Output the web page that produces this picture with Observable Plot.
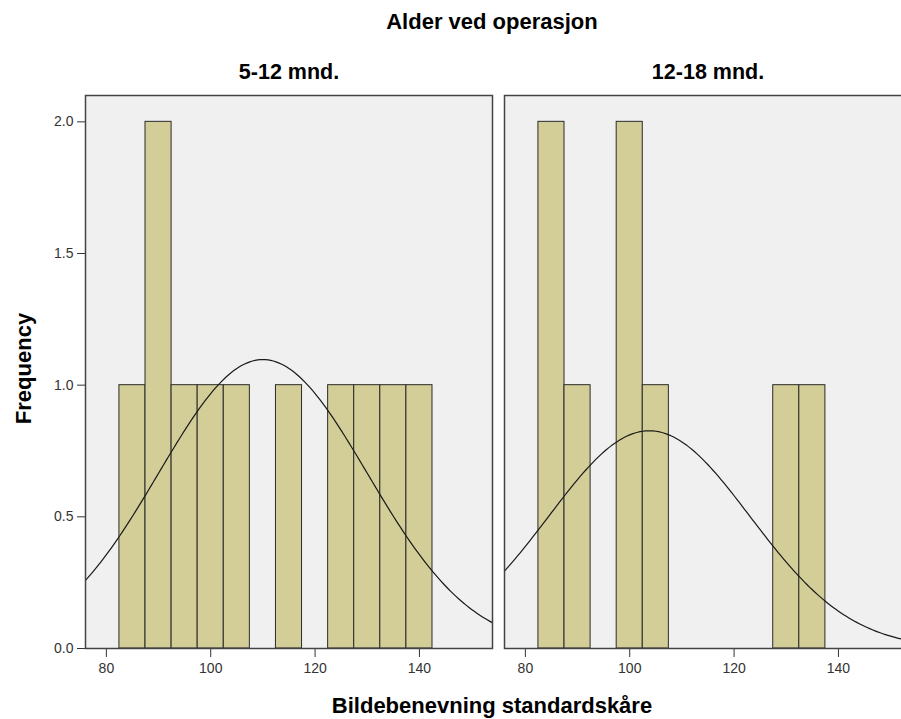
<!DOCTYPE html>
<html>
<head>
<meta charset="utf-8">
<script src="https://cdn.jsdelivr.net/npm/d3@7"></script>
<script src="https://cdn.jsdelivr.net/npm/@observablehq/plot@0.6"></script>
<style>
  html, body { margin: 0; padding: 0; background: #fff; overflow: hidden; }
  body { width: 901px; height: 719px; position: relative; }
  #chart { position: absolute; left: 0; top: 0; }
  #chart svg { max-width: none !important; }
</style>
</head>
<body>
<div id="chart"></div>
<script>
// Data
const groups = ["5-12 mnd.", "12-18 mnd."];
const binCenters = [85, 90, 95, 100, 105, 110, 115, 120, 125, 130, 135, 140];
const countsLeft  = [1, 2, 1, 1, 1, 0, 1, 0, 1, 1, 1, 1];
const countsRight = [2, 1, 0, 2, 1, 0, 0, 0, 0, 1, 1, 0];
const binWidth = 5;
// normal curve parameters (mean, sd, N) per group
const curveMean = [110, 103.75];
const curveSd = [20, 19.3];
const curveN = [11, 8];
const yTicks = [0, 0.5, 1.0, 1.5, 2.0];
const xTicks = [80, 100, 120, 140];

const FONT = "Arial, 'Liberation Sans', sans-serif";

const bars = [];
[countsLeft, countsRight].forEach((counts, gi) => {
  counts.forEach((c, i) => {
    if (c > 0) bars.push({g: groups[gi], x1: binCenters[i] - binWidth / 2, x2: binCenters[i] + binWidth / 2, y: c});
  });
});

const curve = [];
groups.forEach((g, gi) => {
  const m = curveMean[gi], s = curveSd[gi], n = curveN[gi];
  for (let x = 74; x <= 158; x += 0.5) {
    const y = n * binWidth * Math.exp(-0.5 * ((x - m) / s) ** 2) / (s * Math.sqrt(2 * Math.PI));
    curve.push({g, x, y});
  }
});

const plot = Plot.plot({
  width: 912,
  height: 719,
  marginLeft: 84,
  marginRight: 0,
  marginTop: 95,
  marginBottom: 71,
  style: {fontFamily: FONT, fontSize: "14px", color: "#333", background: "transparent", overflow: "visible", maxWidth: "none"},
  fx: {domain: groups, paddingInner: 0.02857, paddingOuter: 0, axis: null, label: null},
  x: {domain: [76, 154], ticks: xTicks, tickSize: 9, tickPadding: 6, label: null, tickFormat: d => String(d)},
  y: {domain: [0, 2.1], ticks: yTicks, tickSize: 8, tickPadding: 4, label: null, tickFormat: d3.format(".1f")},
  marks: [
    Plot.frame({fill: "#f0f0f0", stroke: null}),
    Plot.rectY(bars, {fx: "g", x1: "x1", x2: "x2", y: "y", fill: "#d3ce97", stroke: "#2b2b2b", strokeWidth: 1, inset: 0}),
    Plot.line(curve, {fx: "g", x: "x", y: "y", stroke: "#1a1a1a", strokeWidth: 1.2, clip: true}),
    Plot.frame({stroke: "#444", strokeWidth: 1.5}),
    Plot.text(groups, {fx: d => d, text: d => d, frameAnchor: "top", lineAnchor: "middle", dy: -23, fontWeight: "bold", fontSize: 21.5, fill: "#000"})
  ]
});

document.getElementById("chart").appendChild(plot);

const svg = d3.select(plot);
svg.append("text")
  .attr("x", 492).attr("y", 28.5)
  .attr("text-anchor", "middle")
  .attr("font-family", FONT)
  .attr("font-weight", "bold").attr("font-size", 22).attr("fill", "#000")
  .text("Alder ved operasjon");
svg.append("text")
  .attr("x", 492).attr("y", 713)
  .attr("text-anchor", "middle")
  .attr("font-family", FONT)
  .attr("font-weight", "bold").attr("font-size", 22).attr("fill", "#000")
  .text("Bildebenevning standardskåre");
svg.append("text")
  .attr("transform", "translate(30.5,368.5) rotate(-90)")
  .attr("text-anchor", "middle")
  .attr("font-family", FONT)
  .attr("font-weight", "bold").attr("font-size", 22).attr("fill", "#000")
  .text("Frequency");
</script>
</body>
</html>
